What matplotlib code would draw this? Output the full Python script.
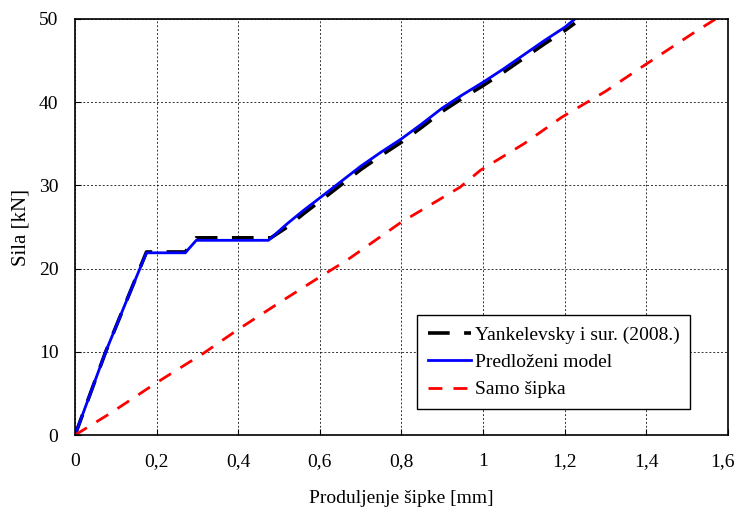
import matplotlib
matplotlib.use("Agg")
import matplotlib.pyplot as plt
import matplotlib.transforms as mtrans

# Yankelevsky i sur. (2008.) - eksperiment
yank_x = [0, 0.075, 0.125, 0.175, 0.27, 0.297, 0.48, 0.52, 0.56, 0.6, 0.65, 0.7, 0.75,
          0.8, 0.85, 0.9, 0.95, 1.0, 1.05, 1.1, 1.15, 1.2, 1.225]
yank_y = [0, 10, 16, 22.0, 22.0, 23.7, 23.7, 25.0, 26.6, 28.1, 30.0, 31.9, 33.6,
          35.2, 37.0, 38.9, 40.5, 42.0, 43.6, 45.3, 47.0, 48.6, 49.5]

# Predlozeni model
model_x = [0, 0.075, 0.125, 0.175, 0.27, 0.297, 0.474, 0.52, 0.56, 0.6, 0.65, 0.7, 0.75,
           0.8, 0.85, 0.9, 0.95, 1.0, 1.05, 1.1, 1.15, 1.2, 1.225]
model_y = [0, 10, 16, 21.9, 21.9, 23.4, 23.4, 25.4, 27.0, 28.5, 30.4, 32.3, 34.0,
           35.6, 37.4, 39.3, 40.9, 42.4, 44.0, 45.7, 47.4, 49.0, 50.0]

# Samo sipka
bar_x = [0, 0.086, 0.2, 0.314, 0.4, 0.51, 0.6, 0.666, 0.797, 0.944, 0.993, 1.1,
         1.193, 1.3, 1.385, 1.45, 1.515, 1.57]
bar_y = [0, 2.6, 6.3, 9.8, 12.7, 16.2, 19.0, 21.0, 25.5, 29.8, 31.8, 35.0,
         38.2, 41.3, 44.1, 46.2, 48.3, 50.0]

xticks = [0, 0.2, 0.4, 0.6, 0.8, 1.0, 1.2, 1.4, 1.6]
xtick_labels = ["0", "0,2", "0,4", "0,6", "0,8", "1", "1,2", "1,4", "1,6"]
yticks = [0, 10, 20, 30, 40, 50]

plt.rcParams["font.family"] = ["Liberation Serif", "DejaVu Serif"]

fig = plt.figure(figsize=(7.36, 5.13), dpi=100)
ax = fig.add_axes([0.102, 0.152, 0.887, 0.811])

ax.plot(yank_x, yank_y, color="black", lw=2.6, dashes=(6, 4), label="Yankelevsky i sur. (2008.)")
ax.plot(model_x, model_y, color="#0000ff", lw=2.0, label="Predloženi model")
ax.plot(bar_x, bar_y, color="#ff0000", lw=2.0, dashes=(5, 4), label="Samo šipka")

ax.set_xlim(0, 1.6)
ax.set_ylim(0, 50)
ax.set_xticks(xticks)
ax.set_xticklabels(xtick_labels)
ax.set_yticks(yticks)
ax.tick_params(direction="in", labelsize=14, pad=13, length=4)
ax.tick_params(axis="y", pad=12)

# last label sits at the figure edge, nudge it in a bit
last = ax.get_xticklabels()[-1]
last.set_transform(last.get_transform() + mtrans.ScaledTranslation(-5 / 100, 0, fig.dpi_scale_trans))

ax.grid(True, color="black", linestyle=(0, (2, 2)), linewidth=0.7, alpha=0.8)
ax.set_axisbelow(True)
for s in ax.spines.values():
    s.set_linewidth(1.2)

ax.set_xlabel("Produljenje šipke [mm]", fontsize=14, labelpad=14)
ax.set_ylabel("Sila [kN]", fontsize=15, labelpad=6)

leg = ax.legend(loc="lower left", bbox_to_anchor=(0.524, 0.0625), borderaxespad=0, fontsize=14,
                fancybox=False, framealpha=1, edgecolor="black", handlelength=2.2,
                handletextpad=0.2, borderpad=0.55, labelspacing=0.5)
leg.get_frame().set_linewidth(1.0)

fig.savefig("out.png", dpi=100)
